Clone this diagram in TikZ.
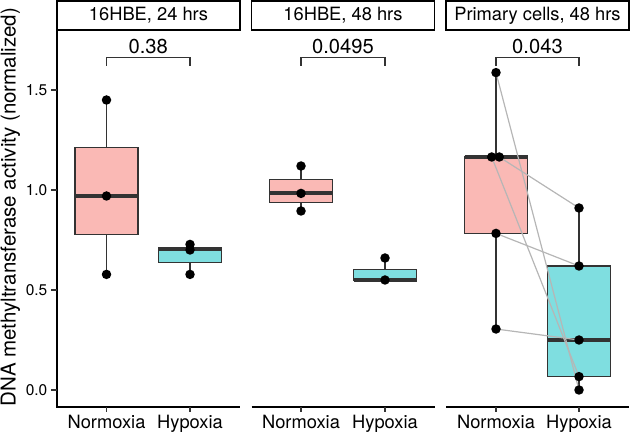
\documentclass[tikz,border=0pt]{standalone}
\usepackage{fontspec}
\setmainfont{TeX Gyre Heros}
\usetikzlibrary{positioning}
\definecolor{normfill}{RGB}{250,185,181}
\definecolor{hypfill}{RGB}{127,222,224}
\definecolor{boxline}{RGB}{51,51,51}
\definecolor{pairgray}{RGB}{182,182,182}

\begin{document}
\begin{tikzpicture}[x=1pt, y=200pt]
\tikzset{
every node/.style={font=\fontsize{18.3}{22}\selectfont, inner sep=0pt}, % text of the plot
strip/.style={draw=black, line width=1.5pt, minimum width=183pt, minimum height=29pt}, % facet headers
axisline/.style={draw=black, line width=1.4pt}, % axis lines
tickmark/.style={draw=boxline, line width=1.2pt}, % small ticks
nbox/.style={draw=boxline, line width=1.6pt, fill=normfill}, % normoxia box
hbox/.style={draw=boxline, line width=1.6pt, fill=hypfill}, % hypoxia box
med/.style={draw=boxline, line width=4pt}, % median bar
whisk/.style={draw=boxline, line width=1.6pt}, % whiskers
pair/.style={draw=pairgray, line width=1.2pt}, % paired samples
dot/.style={circle, fill=black, minimum size=9.5pt}, % data points
pval/.style={font=\fontsize{20.2}{24}\selectfont, anchor=base}, % p-values
ticklab/.style={font=\fontsize{15.5}{18}\selectfont, anchor=east}, % y tick labels
catlab/.style={anchor=base}, % x tick labels
}
\useasboundingbox (0,-0.21) rectangle (630,1.95);

	% facet headers
	\node[strip] (s1) at (148.5,1.8725) {16HBE, 24 hrs};
	\node[strip] (s2) at (343,1.8725) {16HBE, 48 hrs};
	\node[strip] (s3) at (537.5,1.8725) {Primary cells, 48 hrs};

	% axes
	\draw[axisline] (57,1.795) -- (57,-0.085) -- (240,-0.085);
	\draw[axisline] (251.5,-0.085) -- (434.5,-0.085);
	\draw[axisline] (446,-0.085) -- (629,-0.085);
	\draw[tickmark] (51,0) -- (57,0) (51,0.5) -- (57,0.5) (51,1) -- (57,1) (51,1.5) -- (57,1.5);
	\node[ticklab] (y0) at (47.5,0) {0.0};
	\node[ticklab] (y1) at (47.5,0.5) {0.5};
	\node[ticklab] (y2) at (47.5,1) {1.0};
	\node[ticklab] (y3) at (47.5,1.5) {1.5};
	\node[rotate=90, anchor=north, font=\fontsize{20.5}{24}\selectfont] (ytitle) at (0.5,0.915) {DNA methyltransferase activity (normalized)};
	\draw[tickmark] (106.5,-0.085) -- (106.5,-0.11) (190,-0.085) -- (190,-0.11)
	(301,-0.085) -- (301,-0.11) (385,-0.085) -- (385,-0.11)
	(496,-0.085) -- (496,-0.11) (579,-0.085) -- (579,-0.11);
	\node[catlab] (x1) at (106.5,-0.19) {Normoxia};
	\node[catlab] (x2) at (190,-0.19) {Hypoxia};
	\node[catlab] (x3) at (301,-0.19) {Normoxia};
	\node[catlab] (x4) at (385,-0.19) {Hypoxia};
	\node[catlab] (x5) at (496,-0.19) {Normoxia};
	\node[catlab] (x6) at (579,-0.19) {Hypoxia};

	% data points
	\coordinate (n1a) at (106.5,1.45);
	\coordinate (n1b) at (106.5,0.97);
	\coordinate (n1c) at (106.5,0.578);
	\coordinate (h1a) at (190,0.728);
	\coordinate (h1b) at (190,0.70);
	\coordinate (h1c) at (190,0.578);
	\coordinate (n2a) at (301,1.12);
	\coordinate (n2b) at (301,0.983);
	\coordinate (n2c) at (301,0.895);
	\coordinate (h2a) at (385,0.66);
	\coordinate (h2b) at (385,0.55);
	\coordinate (n3a) at (496,1.587);
	\coordinate (n3b) at (491.7,1.165);
	\coordinate (n3c) at (499.3,1.165);
	\coordinate (n3d) at (496,0.783);
	\coordinate (n3e) at (496,0.305);
	\coordinate (h3a) at (579,0.91);
	\coordinate (h3b) at (579,0.62);
	\coordinate (h3c) at (579,0.25);
	\coordinate (h3d) at (579,0.067);
	\coordinate (h3e) at (579,0.0);

	% boxes, 16HBE 24 hrs
	\draw[whisk] (106.5,1.213) -- (n1a) (106.5,0.778) -- (n1c);
	\draw[nbox] (75,0.778) rectangle (138,1.213);
	\draw[med] (75,0.97) -- (138,0.97);
	\draw[whisk] (190,0.713) -- (h1a) (190,0.638) -- (h1c);
	\draw[hbox] (158.5,0.638) rectangle (221.5,0.713);
	\draw[med] (158.5,0.703) -- (221.5,0.703);

	% boxes, 16HBE 48 hrs
	\draw[whisk] (301,1.053) -- (n2a) (301,0.938) -- (n2c);
	\draw[nbox] (269.5,0.938) rectangle (332.5,1.053);
	\draw[med] (269.5,0.983) -- (332.5,0.983);
	\draw[whisk] (385,0.603) -- (h2a);
	\draw[hbox] (353.5,0.55) rectangle (416.5,0.603);
	\draw[med] (353.5,0.55) -- (416.5,0.55);

	% boxes, primary cells
	\draw[whisk] (496,1.167) -- (n3a) (496,0.783) -- (n3e);
	\draw[nbox] (464.5,0.783) rectangle (527.5,1.167);
	\draw[med] (464.5,1.167) -- (527.5,1.167);
	\draw[whisk] (579,0.62) -- (h3a) (579,0.067) -- (h3e);
	\draw[hbox] (547.5,0.067) rectangle (610.5,0.62);
	\draw[med] (547.5,0.25) -- (610.5,0.25);

	% paired donors
	\draw[pair] (n3a) -- (h3e);
	\draw[pair] (n3b) -- (h3d);
	\draw[pair] (n3c) -- (h3a);
	\draw[pair] (n3d) -- (h3b);
	\draw[pair] (n3e) -- (h3c);

	\node[dot] (d1) at (n1a) {};
	\node[dot] (d2) at (n1b) {};
	\node[dot] (d3) at (n1c) {};
	\node[dot] (d4) at (h1a) {};
	\node[dot] (d5) at (h1b) {};
	\node[dot] (d6) at (h1c) {};
	\node[dot] (d7) at (n2a) {};
	\node[dot] (d8) at (n2b) {};
	\node[dot] (d9) at (n2c) {};
	\node[dot] (d10) at (h2a) {};
	\node[dot] (d11) at (h2b) {};
	\node[dot] (d12) at (n3a) {};
	\node[dot] (d13) at (n3b) {};
	\node[dot] (d14) at (n3c) {};
	\node[dot] (d15) at (n3d) {};
	\node[dot] (d16) at (n3e) {};
	\node[dot] (d17) at (h3a) {};
	\node[dot] (d18) at (h3b) {};
	\node[dot] (d19) at (h3c) {};
	\node[dot] (d20) at (h3d) {};
	\node[dot] (d21) at (h3e) {};

	% p-value brackets
	\draw[whisk, line width=1.1pt] (106.5,1.62) |- (190,1.6635) -- (190,1.62);
	\draw[whisk, line width=1.1pt] (301,1.62) |- (385,1.6635) -- (385,1.62);
	\draw[whisk, line width=1.1pt] (496,1.62) |- (579,1.6635) -- (579,1.62);
	\node[pval] (p1) at (148.25,1.6835) {0.38};
	\node[pval] (p2) at (343,1.6835) {0.0495};
	\node[pval] (p3) at (537.5,1.6835) {0.043};
\end{tikzpicture}
\end{document}
